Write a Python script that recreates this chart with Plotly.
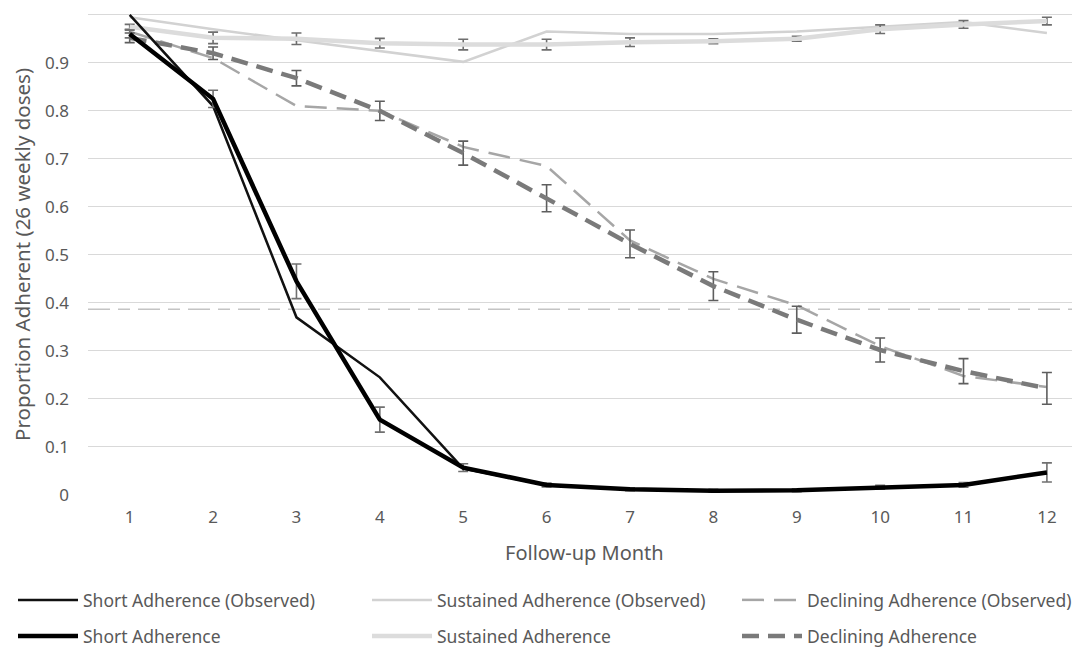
import plotly.graph_objects as go

months = list(range(1, 13))
month_labels = [str(m) for m in months]
y_ticks = [0, 0.1, 0.2, 0.3, 0.4, 0.5, 0.6, 0.7, 0.8, 0.9, 1]
y_tick_labels = ["0", "0.1", "0.2", "0.3", "0.4", "0.5", "0.6", "0.7", "0.8", "0.9", "1"]

short_observed = [1.0, 0.81, 0.37, 0.245, 0.055, 0.021, 0.012, 0.009, 0.010, 0.016, 0.021, 0.047]
short_model = [0.96, 0.825, 0.445, 0.157, 0.057, 0.021, 0.012, 0.009, 0.010, 0.016, 0.021, 0.047]
short_err = [0.008, 0.018, 0.036, 0.026, 0.008, 0.004, 0.003, 0.003, 0.003, 0.004, 0.005, 0.020]

sustained_observed = [0.995, 0.970, 0.947, 0.924, 0.902, 0.965, 0.960, 0.960, 0.965, 0.975, 0.985, 0.962]
sustained_model = [0.975, 0.952, 0.950, 0.941, 0.938, 0.938, 0.943, 0.945, 0.950, 0.970, 0.980, 0.987]
sustained_err = [0.005, 0.012, 0.012, 0.010, 0.011, 0.011, 0.009, 0.005, 0.005, 0.009, 0.008, 0.008]

declining_observed = [0.965, 0.910, 0.810, 0.800, 0.725, 0.685, 0.530, 0.450, 0.395, 0.310, 0.248, 0.225]
declining_model = [0.952, 0.920, 0.868, 0.800, 0.712, 0.618, 0.523, 0.435, 0.365, 0.302, 0.258, 0.222]
declining_err = [0.010, 0.013, 0.016, 0.020, 0.025, 0.028, 0.029, 0.030, 0.028, 0.025, 0.026, 0.033]

reference_level = 0.387

x_title = "Follow-up Month"
y_title = "Proportion Adherent (26 weekly doses)"

TEXT = "#595959"
FONT = "Noto Sans"
# the page body adds an 8px offset, so the figure is sized to the visible window
W, H = 1072, 641
ML, MR, MT, MB = 80, 0, 2.2, 154
PW, PH = W - ML - MR, H - MT - MB

fig = go.Figure()

# reference dashed line
fig.add_shape(type="line", xref="paper", yref="y", x0=0, x1=1,
              y0=reference_level, y1=reference_level,
              line=dict(color="#c4c4c4", width=1.5, dash="22px,8px,12px,8px"), layer="below")

# legend slots: (left px, row centre px) in figure coordinates
slots = {
    "legend": (5, 592), "legend2": (359, 592), "legend3": (729, 592),
    "legend4": (5, 628), "legend5": (359, 628), "legend6": (729, 628),
}

def add(name, y, color, width, legend, dash=None, err=None, errcolor=None):
    kw = {}
    if err is not None:
        kw["error_y"] = dict(type="data", array=err, visible=True, color=errcolor,
                             thickness=1.6, width=5)
    fig.add_trace(go.Scatter(
        x=months, y=y, mode="lines", name=name,
        line=dict(color=color, width=width, dash=dash),
        legend=legend, **kw))

add("Sustained Adherence (Observed)", sustained_observed, "#d2d2d2", 2.5, "legend2")
add("Sustained Adherence", sustained_model, "#dcdcdc", 4.5, "legend5", err=sustained_err, errcolor="#6e6e6e")
add("Declining Adherence (Observed)", declining_observed, "#a6a6a6", 2.5, "legend3", dash="22px,10px")
add("Declining Adherence", declining_model, "#7a7a7a", 4.5, "legend6", dash="17px,9px", err=declining_err, errcolor="#5e5e5e")
add("Short Adherence (Observed)", short_observed, "#111111", 2.5, "legend")
add("Short Adherence", short_model, "#000000", 4.5, "legend4", err=short_err, errcolor="#707070")

legends = {}
for key, (lx, ly) in slots.items():
    legends[key] = dict(orientation="h", xref="container", yref="container",
                        x=lx / W, y=1 - ly / H, xanchor="left", yanchor="middle",
                        font=dict(family=FONT, size=17.5, color=TEXT),
                        itemwidth=60, bgcolor="rgba(0,0,0,0)")

fig.update_layout(
    width=W, height=H,
    margin=dict(l=ML, r=MR, t=MT, b=MB),
    paper_bgcolor="white", plot_bgcolor="white",
    font=dict(family=FONT, color=TEXT),
    showlegend=True,
    **legends,
    xaxis=dict(range=[0.5, 12.397], tickmode="array", tickvals=months, ticktext=month_labels,
               showgrid=False, zeroline=False, showline=False, ticks="", automargin=False,
               tickfont=dict(family=FONT, size=17, color=TEXT), ticklabelstandoff=10),
    yaxis=dict(range=[0, 1.01], tickmode="array", tickvals=y_ticks, ticktext=y_tick_labels,
               showgrid=True, gridcolor="#d9d9d9", gridwidth=1.2, zeroline=False, showline=False, ticks="",
               automargin=False,
               tickfont=dict(family=FONT, size=17, color=TEXT), ticklabelstandoff=18),
    annotations=[
        dict(text=x_title, xref="paper", yref="paper", x=0.5, y=(H - MB - 544) / PH,
             xanchor="center", yanchor="middle", showarrow=False,
             font=dict(family=FONT, size=20, color=TEXT)),
        dict(text=y_title, xref="paper", yref="paper", x=(14 - ML) / PW, y=(H - MB - 247) / PH,
             xanchor="center", yanchor="middle", showarrow=False, textangle=-90,
             font=dict(family=FONT, size=20.5, color=TEXT)),
    ],
)

fig.write_html("out.html")
